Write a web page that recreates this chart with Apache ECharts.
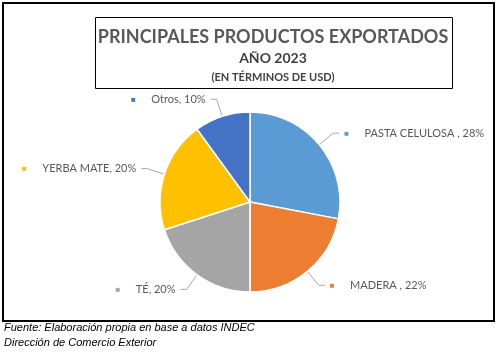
<!DOCTYPE html>
<html>
<head>
<meta charset="utf-8">
<script src="https://cdn.jsdelivr.net/npm/echarts@6/dist/echarts.min.js"></script>
<style>
  html, body { margin: 0; padding: 0; background: #fff; }
  #chart { width: 499px; height: 353px; }
</style>
</head>
<body>
<div id="chart"></div>
<script>
// datos del gráfico
const productos = ['PASTA CELULOSA ', 'MADERA ', 'TÉ', 'YERBA MATE', 'Otros'];
const porcentajes = [28, 22, 20, 20, 10];
const colores = ['#5B9BD5', '#ED7D31', '#A5A5A5', '#FFC000', '#4472C4'];
const titulos = ['PRINCIPALES PRODUCTOS EXPORTADOS', 'AÑO 2023', '(EN TÉRMINOS DE USD)'];
const notas = ['Fuente: Elaboración propia en base a datos INDEC', 'Dirección de Comercio Exterior'];

const chart = echarts.init(document.getElementById('chart'));

const datos = productos.map((p, i) => ({
    name: p,
    value: porcentajes[i],
    itemStyle: { color: colores[i] },
    label: { rich: { sq: { color: colores[i] } } }
}));

// texto centrado dentro del recuadro del título
function textoTitulo(txt, y, size, color) {
    return {
        type: 'text', x: 273, y: y, silent: true,
        style: {
            text: txt, textAlign: 'center', textVerticalAlign: 'middle',
            font: 'bold ' + size + 'px Lato', fill: color
        }
    };
}

chart.setOption({
    animation: false,
    textStyle: { fontFamily: 'Lato' },
    graphic: [
        {
            type: 'rect', silent: true,
            shape: { x: 3, y: 3, width: 491, height: 318 },
            style: { fill: 'none', stroke: '#000', lineWidth: 2 }
        },
        {
            type: 'rect', silent: true,
            shape: { x: 95.5, y: 17.5, width: 357, height: 71 },
            style: { fill: 'none', stroke: '#000', lineWidth: 1 }
        },
        textoTitulo(titulos[0], 37, 18, '#595959'),
        textoTitulo(titulos[1], 58, 14, '#404040'),
        textoTitulo(titulos[2], 77, 11, '#404040'),
        {
            type: 'text', left: 4, top: 322,
            style: { text: notas[0], font: 'italic 11px "Liberation Sans"', fill: '#000' }
        },
        {
            type: 'text', left: 4, top: 337,
            style: { text: notas[1], font: 'italic 11px "Liberation Sans"', fill: '#000' }
        }
    ],
    series: [{
        type: 'pie',
        center: [250, 202],
        radius: 90,
        startAngle: 90,
        clockwise: true,
        itemStyle: { borderColor: '#fff', borderWidth: 1.5 },
        label: {
            show: true,
            position: 'outside',
            overflow: 'none',
            formatter: p => '{sq|■}     {t|' + p.name + ', ' + p.value + '%}',
            rich: {
                sq: { fontSize: 8 },
                t: { fontSize: 11, color: '#595959', fontFamily: 'Lato' }
            }
        },
        labelLine: {
            show: true, length: 18, length2: 6,
            lineStyle: { color: '#A6A6A6', width: 1 }
        },
        data: datos
    }]
});
</script>
</body>
</html>
